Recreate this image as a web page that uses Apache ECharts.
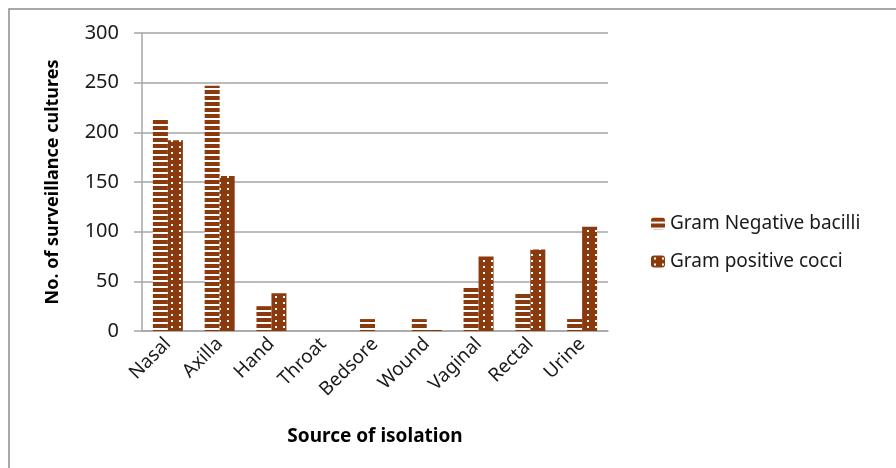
<!DOCTYPE html>
<html>
<head>
<meta charset="utf-8">
<script src="https://cdn.jsdelivr.net/npm/echarts@6/dist/echarts.min.js"></script>
<style>
  html, body { margin: 0; padding: 0; background: #ffffff; }
  #chart { width: 896px; height: 468px; }
</style>
</head>
<body>
<div id="chart"></div>
<script>
// Surveillance culture counts by site of isolation
const categories = ['Nasal', 'Axilla', 'Hand', 'Throat', 'Bedsore', 'Wound', 'Vaginal', 'Rectal', 'Urine'];
const gramNegative = [213, 247, 25, 0, 12, 12, 45, 38, 12];
const gramPositive = [192, 156, 38, 0, 0, 1, 75, 82, 105];
const yTicks = [0, 50, 100, 150, 200, 250, 300];

const BROWN = '#8B3A0E';
const FONT = '"Noto Sans", "Open Sans", sans-serif';

// Horizontal stripes on white
function stripePattern() {
  const c = document.createElement('canvas');
  c.width = 4; c.height = 6;
  const g = c.getContext('2d');
  g.fillStyle = '#ffffff';
  g.fillRect(0, 0, 4, 6);
  g.fillStyle = BROWN;
  g.fillRect(0, 0, 4, 4);
  return c;
}

// Solid brown with small white dots
function dotPattern() {
  const c = document.createElement('canvas');
  c.width = 8; c.height = 6;
  const g = c.getContext('2d');
  g.fillStyle = BROWN;
  g.fillRect(0, 0, 8, 6);
  g.fillStyle = '#ffffff';
  g.fillRect(3, 2, 2, 2);
  return c;
}

const chart = echarts.init(document.getElementById('chart'), null, { renderer: 'canvas' });

chart.setOption({
  backgroundColor: '#ffffff',
  animation: false,
  graphic: [{
    type: 'polyline',
    shape: { points: [[9, 470], [9, 9], [900, 9]] },
    style: { stroke: '#8c8c8c', lineWidth: 1.5, fill: null }
  }],
  grid: { left: 142, right: 288, top: 33, bottom: 137 },
  legend: {
    orient: 'vertical',
    left: 646,
    top: 209,
    itemGap: 19,
    itemWidth: 14,
    itemHeight: 12,
    textStyle: { fontFamily: FONT, fontSize: 19, color: '#1a1a1a' },
    data: ['Gram Negative bacilli', 'Gram positive cocci']
  },
  xAxis: {
    type: 'category',
    data: categories,
    name: 'Source of isolation',
    nameLocation: 'middle',
    nameGap: 96,
    nameTextStyle: { fontFamily: FONT, fontSize: 19, fontWeight: 'bold', color: '#000000' },
    axisLine: { show: true, lineStyle: { color: '#a6a6a6', width: 1.5 } },
    axisTick: { show: false },
    axisLabel: {
      rotate: 45,
      interval: 0,
      margin: 10,
      fontFamily: FONT,
      fontSize: 19,
      color: '#1a1a1a'
    }
  },
  yAxis: {
    type: 'value',
    min: 0,
    max: 300,
    interval: 50,
    name: 'No. of surveillance cultures',
    nameLocation: 'middle',
    nameGap: 80,
    nameTextStyle: { fontFamily: FONT, fontSize: 18, fontWeight: 'bold', color: '#000000' },
    axisLine: { show: true, lineStyle: { color: '#a6a6a6', width: 1.5 } },
    axisTick: { show: true, length: 8, inside: false, lineStyle: { color: '#a6a6a6', width: 1.5 } },
    splitLine: { show: true, lineStyle: { color: '#a6a6a6', width: 1.5 } },
    axisLabel: {
      margin: 23,
      fontFamily: FONT,
      fontSize: 20,
      color: '#1a1a1a',
      formatter: v => (yTicks.includes(v) ? String(v) : '')
    }
  },
  series: [
    {
      name: 'Gram Negative bacilli',
      type: 'bar',
      data: gramNegative,
      barWidth: 15,
      barGap: '0%',
      itemStyle: { color: { image: stripePattern(), repeat: 'repeat' } }
    },
    {
      name: 'Gram positive cocci',
      type: 'bar',
      data: gramPositive,
      barWidth: 15,
      barGap: '0%',
      itemStyle: { color: { image: dotPattern(), repeat: 'repeat' } }
    }
  ]
});
</script>
</body>
</html>
